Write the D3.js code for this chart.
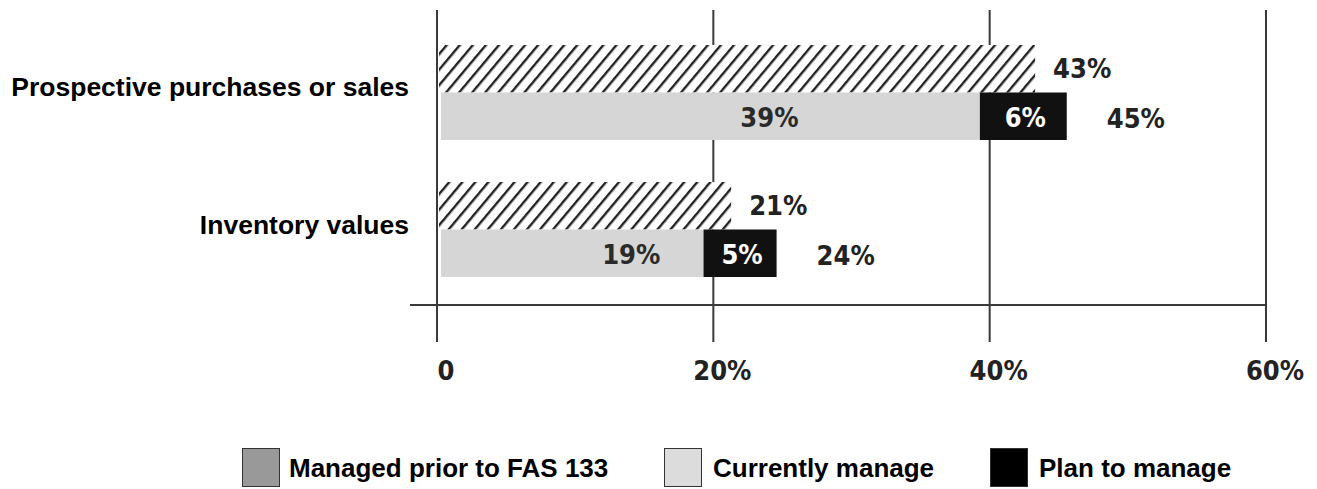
<!DOCTYPE html>
<html><head><meta charset="utf-8">
<script src="https://cdn.jsdelivr.net/npm/d3@7"></script>
<style>
html,body{margin:0;padding:0;background:#fff;}
svg{display:block;}
</style></head>
<body>
<svg id="c" width="1317" height="489"></svg>
<script>
const categories = ["Prospective purchases or sales", "Inventory values"];
const priorValues = [43, 21];
const currentValues = [39, 19];
const planValues = [6, 5];
const totalValues = [45, 24];
const tickValues = [0, 20, 40, 60];
const tickLabels = ["0", "20%", "40%", "60%"];
const legendLabels = ["Managed prior to FAS 133", "Currently manage", "Plan to manage"];

const svg = d3.select("#c");
const x = d3.scaleLinear().domain([0, 60]).range([437, 1266]);
const y = d3.scaleBand().domain(categories).range([45, 277]).paddingInner(0.3066).paddingOuter(0);
const bh = y.bandwidth() / 2;
const off = 4;

const defs = svg.append("defs");
const pat = defs.append("pattern").attr("id", "hatch").attr("patternUnits", "userSpaceOnUse")
  .attr("width", 10).attr("height", 10).attr("patternTransform", "rotate(40)");
pat.append("rect").attr("width", 10).attr("height", 10).attr("fill", "#fff");
pat.append("line").attr("x1", 1).attr("y1", 0).attr("x2", 1).attr("y2", 10)
  .attr("stroke", "#222").attr("stroke-width", 2.8);

const valFont = "'DejaVu Sans Condensed','DejaVu Sans',sans-serif";
const lblFont = "'Liberation Sans',Arial,sans-serif";
const valSize = 27;

// gridlines
svg.append("g").selectAll("line").data(tickValues).join("line")
  .attr("x1", d => x(d)).attr("x2", d => x(d)).attr("y1", 10).attr("y2", 342)
  .attr("stroke", "#3a3a3a").attr("stroke-width", 2);

// axis baseline
svg.append("line").attr("x1", 410).attr("x2", x(60)).attr("y1", 305).attr("y2", 305)
  .attr("stroke", "#3a3a3a").attr("stroke-width", 2);

// tick labels
svg.append("g").selectAll("text").data(tickValues).join("text")
  .attr("x", d => x(d) + 9).attr("y", 380).attr("text-anchor", "middle")
  .attr("font-family", valFont).attr("font-weight", "bold").attr("font-size", valSize)
  .attr("fill", "#222")
  .text((d, i) => tickLabels[i]);

// bars
const g = svg.append("g");
g.selectAll(".prior").data(categories).join("rect").attr("class", "prior")
  .attr("x", x(0) + 2).attr("y", d => y(d))
  .attr("width", (d, i) => x(priorValues[i]) - x(0) + 2).attr("height", bh)
  .attr("fill", "url(#hatch)");
g.selectAll(".cur").data(categories).join("rect").attr("class", "cur")
  .attr("x", x(0) + off).attr("y", d => y(d) + bh)
  .attr("width", (d, i) => x(currentValues[i]) - x(0)).attr("height", bh)
  .attr("fill", "#d6d6d6");
g.selectAll(".plan").data(categories).join("rect").attr("class", "plan")
  .attr("x", (d, i) => x(currentValues[i]) + off).attr("y", d => y(d) + bh)
  .attr("width", (d, i) => x(currentValues[i] + planValues[i]) - x(currentValues[i]) + 4).attr("height", bh)
  .attr("fill", "#111");

// value labels
const vl = svg.append("g").attr("font-family", valFont).attr("font-weight", "bold")
  .attr("font-size", valSize);
vl.selectAll(".pl").data(categories).join("text")
  .attr("x", (d, i) => x(priorValues[i]) + 22).attr("y", d => y(d) + bh / 2 + 9)
  .attr("fill", "#222").text((d, i) => priorValues[i] + "%");
vl.selectAll(".cl").data(categories).join("text")
  .attr("x", (d, i) => x(currentValues[i] / 2) + 63).attr("y", d => y(d) + bh * 1.5 + 11)
  .attr("text-anchor", "middle").attr("fill", "#2a2a2a").text((d, i) => currentValues[i] + "%");
vl.selectAll(".pll").data(categories).join("text")
  .attr("x", (d, i) => (x(currentValues[i]) + x(currentValues[i] + planValues[i])) / 2 + off + 4)
  .attr("y", d => y(d) + bh * 1.5 + 11)
  .attr("text-anchor", "middle").attr("fill", "#fff").text((d, i) => planValues[i] + "%");
vl.selectAll(".tl").data(categories).join("text")
  .attr("x", (d, i) => x(totalValues[i]) + 48).attr("y", d => y(d) + bh * 1.5 + 12)
  .attr("fill", "#222").text((d, i) => totalValues[i] + "%");

// category labels
svg.append("g").selectAll("text").data(categories).join("text")
  .attr("x", 409).attr("y", d => y(d) + bh + 4)
  .attr("text-anchor", "end").attr("font-family", lblFont).attr("font-weight", "bold")
  .attr("font-size", 26.5).attr("fill", "#000").text(d => d);

// legend
const legX = [242, 664, 990];
const legFill = ["#999", "#dcdcdc", "#000"];
const leg = svg.append("g").selectAll("g").data(legendLabels).join("g")
  .attr("transform", (d, i) => `translate(${legX[i]},448)`);
leg.append("rect").attr("x", 0.5).attr("y", 0.5).attr("width", 37).attr("height", 38)
  .attr("fill", (d, i) => legFill[i]).attr("stroke", "#333").attr("stroke-width", 1);
leg.append("text").attr("x", (d, i) => i === 0 ? 47 : 49).attr("y", 29)
  .attr("font-family", lblFont).attr("font-weight", "bold").attr("font-size", 26)
  .attr("fill", "#000").text(d => d);
</script>
</body></html>
